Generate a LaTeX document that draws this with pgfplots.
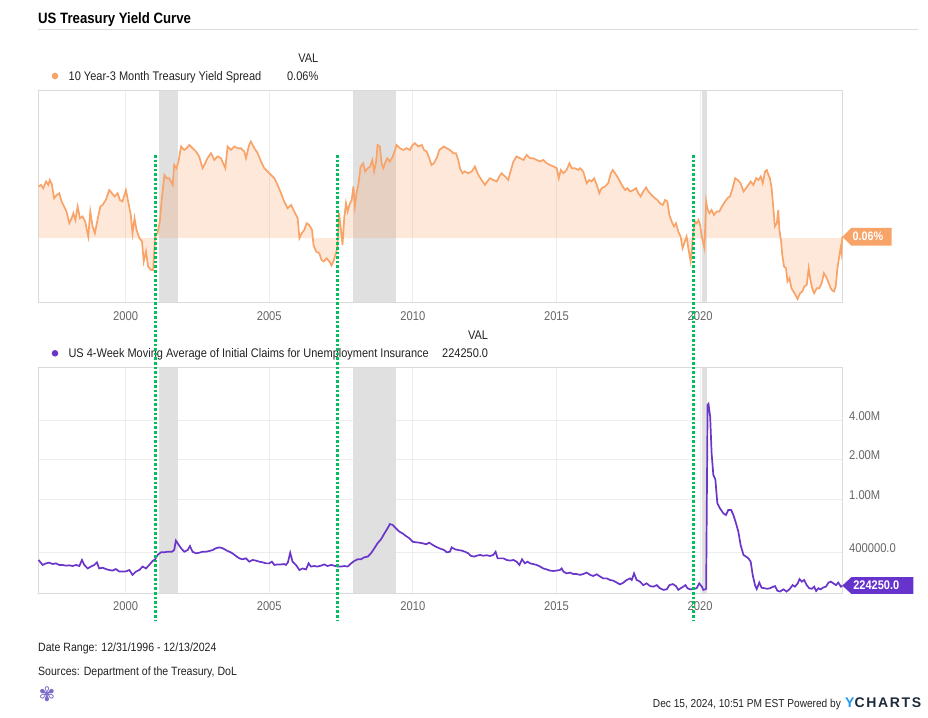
\documentclass[border=0pt]{standalone}
\usepackage{fontspec}
\setmainfont{Liberation Sans}[FakeStretch=0.88]
\newfontfamily\logofont{Liberation Sans}
\newfontfamily\dejavu{DejaVu Sans}
\usepackage{pgfplots}
\pgfplotsset{compat=1.18}
\usepackage{pgfplotstable}

\definecolor{spc}{HTML}{F8A368}
\definecolor{clc}{HTML}{6A35C9}
\definecolor{tagp}{HTML}{6633CC}
\definecolor{grn}{HTML}{00BF5F}
\definecolor{rec}{HTML}{E0E0E0}
\definecolor{frame}{HTML}{DADADA}
\definecolor{gridc}{HTML}{EDEDED}
\definecolor{tickc}{HTML}{666666}
\definecolor{txt}{HTML}{222222}
\definecolor{ycb}{HTML}{1E96F0}
\definecolor{ycn}{HTML}{1C2A3A}
\definecolor{logoc}{HTML}{7A6CC8}

\pgfplotstableread{
year v
1996.97 2.07
1997.05 2.13
1997.13 2.00
1997.23 2.27
1997.31 2.13
1997.36 2.33
1997.43 2.16
1997.51 1.60
1997.60 1.73
1997.69 1.80
1997.77 1.47
1997.86 1.27
1997.94 1.07
1998.04 0.60
1998.12 0.80
1998.18 1.00
1998.25 0.73
1998.33 1.27
1998.41 0.80
1998.50 0.87
1998.59 0.67
1998.70 0.07
1998.77 1.07
1998.85 0.47
1998.93 0.20
1999.02 0.73
1999.12 1.27
1999.20 1.33
1999.31 1.53
1999.43 1.93
1999.52 1.80
1999.62 1.67
1999.72 1.80
1999.80 1.53
1999.89 1.47
2000.01 1.93
2000.10 1.40
2000.18 0.93
2000.24 0.20
2000.31 0.80
2000.38 0.33
2000.48 0.00
2000.57 -0.13
2000.63 -0.93
2000.71 -0.53
2000.78 -1.13
2000.88 -1.27
2000.96 -1.27
2001.03 0.13
2001.11 0.20
2001.19 0.67
2001.26 1.60
2001.35 2.53
2001.43 2.40
2001.52 2.40
2001.64 2.13
2001.69 2.93
2001.77 2.80
2001.84 3.07
2001.93 3.67
2002.04 3.53
2002.12 3.60
2002.22 3.73
2002.33 3.60
2002.45 3.47
2002.56 3.27
2002.68 2.80
2002.74 2.93
2002.85 3.20
2002.97 3.40
2003.09 3.13
2003.20 3.27
2003.32 3.20
2003.47 2.80
2003.55 3.67
2003.67 3.53
2003.78 3.67
2003.90 3.60
2004.01 3.60
2004.13 3.47
2004.19 3.20
2004.30 3.73
2004.36 3.87
2004.48 3.60
2004.60 3.40
2004.71 3.07
2004.83 2.80
2005.00 2.60
2005.18 2.40
2005.29 2.13
2005.41 1.80
2005.52 1.47
2005.64 1.20
2005.76 1.33
2005.87 1.07
2005.99 0.80
2006.05 0.00
2006.13 0.20
2006.22 0.33
2006.30 0.60
2006.39 0.53
2006.49 0.33
2006.54 -0.27
2006.63 -0.53
2006.74 -0.60
2006.82 -0.87
2006.90 -0.93
2007.00 -0.80
2007.09 -0.93
2007.17 -1.09
2007.25 -0.87
2007.32 -0.60
2007.37 -0.40
2007.43 1.00
2007.48 0.53
2007.55 -0.27
2007.61 0.80
2007.67 1.40
2007.73 1.07
2007.79 1.33
2007.87 1.53
2007.93 2.07
2007.98 1.27
2008.04 1.80
2008.11 2.20
2008.18 2.87
2008.27 3.00
2008.34 2.67
2008.43 2.80
2008.51 2.87
2008.59 3.13
2008.65 2.67
2008.72 3.07
2008.77 3.73
2008.85 3.67
2008.91 3.00
2008.97 2.80
2009.03 3.00
2009.11 3.20
2009.20 3.07
2009.30 3.27
2009.38 3.53
2009.43 3.73
2009.55 3.60
2009.67 3.53
2009.78 3.60
2009.90 3.53
2009.99 3.73
2010.07 3.80
2010.19 3.67
2010.31 3.73
2010.39 3.53
2010.48 3.47
2010.57 3.20
2010.65 2.93
2010.73 3.00
2010.83 3.20
2010.92 3.53
2011.00 3.60
2011.08 3.67
2011.18 3.60
2011.29 3.53
2011.41 3.40
2011.50 3.40
2011.58 3.13
2011.64 2.80
2011.73 2.60
2011.81 2.67
2011.93 2.60
2012.05 2.67
2012.16 2.87
2012.28 2.53
2012.39 2.33
2012.51 2.13
2012.59 2.27
2012.68 2.40
2012.80 2.33
2012.92 2.27
2013.01 2.47
2013.09 2.60
2013.21 2.47
2013.32 2.33
2013.40 2.67
2013.50 3.07
2013.61 3.27
2013.73 3.20
2013.85 3.13
2013.96 3.33
2014.08 3.20
2014.19 3.20
2014.31 3.13
2014.43 3.07
2014.54 3.13
2014.66 3.00
2014.77 2.93
2014.89 2.87
2015.01 2.80
2015.08 2.40
2015.15 2.73
2015.24 2.60
2015.35 2.73
2015.45 3.00
2015.53 2.80
2015.64 2.80
2015.76 2.73
2015.82 2.80
2015.93 2.67
2016.05 2.20
2016.14 2.33
2016.22 2.27
2016.31 2.40
2016.40 2.13
2016.49 1.80
2016.57 2.00
2016.69 2.07
2016.80 2.20
2016.89 2.60
2016.96 2.73
2017.04 2.60
2017.15 2.40
2017.27 2.13
2017.39 1.93
2017.47 2.00
2017.56 1.87
2017.68 1.93
2017.77 2.00
2017.85 1.80
2017.93 1.67
2018.02 1.87
2018.12 2.03
2018.20 1.87
2018.31 1.73
2018.43 1.60
2018.51 1.53
2018.60 1.40
2018.70 1.33
2018.78 1.53
2018.86 1.47
2018.93 0.93
2019.01 0.67
2019.09 0.47
2019.16 0.60
2019.24 0.27
2019.32 0.07
2019.39 -0.40
2019.47 -0.13
2019.53 0.07
2019.59 -0.40
2019.67 -0.93
2019.72 -0.40
2019.76 0.27
2019.82 0.67
2019.88 0.60
2019.94 0.73
2020.00 0.53
2020.07 0.00
2020.15 -0.40
2020.21 1.47
2020.25 1.20
2020.32 1.00
2020.40 1.13
2020.48 0.93
2020.58 1.07
2020.67 1.07
2020.76 1.27
2020.87 1.47
2020.95 1.60
2021.04 1.67
2021.13 2.00
2021.22 2.40
2021.31 2.33
2021.41 2.20
2021.51 1.87
2021.60 2.00
2021.68 2.13
2021.76 2.27
2021.85 2.13
2021.95 2.40
2022.03 2.33
2022.11 2.47
2022.18 2.20
2022.26 2.67
2022.32 2.73
2022.38 2.53
2022.43 2.40
2022.49 2.00
2022.55 1.20
2022.60 0.47
2022.67 0.60
2022.72 1.13
2022.76 0.33
2022.82 -0.13
2022.86 -0.67
2022.92 -1.13
2022.99 -1.20
2023.04 -1.73
2023.11 -1.60
2023.18 -2.00
2023.25 -2.13
2023.32 -2.27
2023.39 -2.43
2023.48 -2.20
2023.56 -2.13
2023.63 -1.93
2023.71 -1.87
2023.78 -1.20
2023.83 -1.60
2023.90 -2.00
2023.97 -2.20
2024.06 -2.00
2024.15 -2.00
2024.23 -1.80
2024.31 -1.40
2024.41 -1.60
2024.50 -1.87
2024.58 -2.07
2024.66 -2.13
2024.72 -1.93
2024.78 -1.20
2024.85 -0.67
2024.89 -0.40
2024.92 -0.60
2024.95 0.06
}\spread

\pgfplotstableread{
year v
1996.97 350000
1997.11 321000
1997.23 330000
1997.34 334000
1997.46 326000
1997.57 330000
1997.69 321000
1997.80 321000
1997.92 317000
1998.04 319000
1998.15 315000
1998.27 321000
1998.39 315000
1998.48 350000
1998.56 321000
1998.68 302000
1998.79 312000
1998.91 321000
1999.00 336000
1999.08 302000
1999.20 306000
1999.31 299000
1999.43 294000
1999.55 291000
1999.66 299000
1999.78 286000
1999.89 286000
2000.01 287000
2000.13 294000
2000.24 270000
2000.36 286000
2000.48 294000
2000.59 312000
2000.71 302000
2000.82 321000
2000.94 344000
2001.03 354000
2001.11 382000
2001.23 400000
2001.35 400000
2001.46 404000
2001.61 404000
2001.69 416000
2001.75 490000
2001.85 455000
2001.93 429000
2002.04 404000
2002.16 416000
2002.24 446000
2002.33 404000
2002.45 393000
2002.56 397000
2002.68 404000
2002.80 404000
2002.91 409000
2003.03 416000
2003.14 429000
2003.26 436000
2003.38 429000
2003.49 416000
2003.61 404000
2003.72 393000
2003.84 375000
2003.96 360000
2004.07 354000
2004.19 360000
2004.30 340000
2004.42 350000
2004.54 346000
2004.65 340000
2004.77 336000
2004.89 330000
2005.00 330000
2005.09 340000
2005.18 321000
2005.29 324000
2005.41 324000
2005.52 326000
2005.58 321000
2005.65 336000
2005.73 397000
2005.81 340000
2005.93 321000
2006.05 294000
2006.16 302000
2006.28 297000
2006.37 330000
2006.45 312000
2006.57 315000
2006.68 312000
2006.80 317000
2006.92 324000
2007.03 315000
2007.15 321000
2007.26 317000
2007.38 312000
2007.50 312000
2007.61 315000
2007.73 312000
2007.85 330000
2007.96 344000
2008.08 354000
2008.19 354000
2008.31 367000
2008.43 371000
2008.54 393000
2008.66 429000
2008.77 468000
2008.89 501000
2009.01 556000
2009.12 607000
2009.20 654000
2009.30 643000
2009.41 607000
2009.53 573000
2009.64 556000
2009.76 531000
2009.88 510000
2009.99 481000
2010.11 476000
2010.22 473000
2010.34 468000
2010.46 460000
2010.57 473000
2010.69 455000
2010.80 441000
2010.92 429000
2011.09 416000
2011.18 400000
2011.29 404000
2011.35 436000
2011.47 421000
2011.58 416000
2011.70 412000
2011.81 404000
2011.93 393000
2012.01 377000
2012.13 371000
2012.22 377000
2012.34 382000
2012.45 377000
2012.57 380000
2012.69 375000
2012.80 382000
2012.88 404000
2012.95 360000
2013.03 360000
2013.15 360000
2013.27 350000
2013.38 346000
2013.50 350000
2013.61 340000
2013.71 321000
2013.80 354000
2013.90 330000
2013.99 340000
2014.08 330000
2014.19 326000
2014.31 321000
2014.43 312000
2014.54 302000
2014.66 297000
2014.77 291000
2014.89 289000
2015.01 291000
2015.12 294000
2015.18 302000
2015.24 286000
2015.35 277000
2015.47 281000
2015.59 274000
2015.70 274000
2015.82 270000
2015.93 274000
2016.05 281000
2016.17 270000
2016.28 265000
2016.40 273000
2016.52 262000
2016.63 254000
2016.75 254000
2016.86 247000
2016.98 244000
2017.10 236000
2017.21 229000
2017.33 236000
2017.44 247000
2017.56 254000
2017.62 247000
2017.70 277000
2017.79 247000
2017.91 240000
2018.02 226000
2018.14 233000
2018.26 222000
2018.37 220000
2018.49 226000
2018.60 214000
2018.72 208000
2018.84 210000
2018.93 226000
2019.05 230000
2019.16 222000
2019.24 208000
2019.32 214000
2019.42 220000
2019.49 226000
2019.56 214000
2019.65 210000
2019.77 211000
2019.88 214000
2019.97 233000
2020.06 220000
2020.11 208000
2020.18 210000
2020.21 212000
2020.26 5200000
2020.29 5300000
2020.35 4240000
2020.40 2240000
2020.46 1536000
2020.53 1424000
2020.60 938000
2020.69 860000
2020.81 788000
2020.90 765000
2020.98 835000
2021.08 835000
2021.16 765000
2021.25 662000
2021.33 573000
2021.41 454000
2021.51 382000
2021.60 371000
2021.68 360000
2021.76 340000
2021.83 270000
2021.91 226000
2021.97 211000
2022.06 236000
2022.14 216000
2022.24 214000
2022.34 212000
2022.43 214000
2022.55 220000
2022.61 222000
2022.69 205000
2022.78 202000
2022.90 210000
2023.01 202000
2023.11 210000
2023.22 226000
2023.30 220000
2023.40 233000
2023.46 251000
2023.54 240000
2023.62 247000
2023.71 226000
2023.80 214000
2023.89 212000
2023.97 220000
2024.04 204000
2024.12 214000
2024.20 210000
2024.29 217000
2024.38 220000
2024.47 236000
2024.55 240000
2024.64 233000
2024.73 226000
2024.81 236000
2024.90 220000
2024.95 224250
}\claims

\begin{document}
\begin{tikzpicture}
\useasboundingbox (0pt,0pt) rectangle (928pt,717pt);

% title
\node[anchor=base west, inner sep=0, font=\fontsize{15}{17}\selectfont\bfseries, text=black] at (38pt,693pt) {US Treasury Yield Curve};
\draw[black!14, line width=0.8pt] (38pt,688pt) -- (918pt,688pt);

% top legend
\node[anchor=base east, inner sep=0, font=\fontsize{12.5}{14}\selectfont, text=txt] at (318.5pt,654pt) {VAL};
\fill[spc] (55pt,641pt) circle (3.3pt);
\node[anchor=base west, inner sep=0, font=\fontsize{12.5}{14}\selectfont, text=txt] at (68.5pt,636.5pt) {10 Year-3 Month Treasury Yield Spread};
\node[anchor=base east, inner sep=0, font=\fontsize{12.5}{14}\selectfont, text=txt] at (318.5pt,636.5pt) {0.06\%};

% bottom legend
\node[anchor=base east, inner sep=0, font=\fontsize{12.5}{14}\selectfont, text=txt] at (488.3pt,377.5pt) {VAL};
\fill[clc] (55pt,363.7pt) circle (3.3pt);
\node[anchor=base west, inner sep=0, font=\fontsize{12.5}{14}\selectfont, text=txt] at (68.3pt,359.2pt) {US 4-Week Moving Average of Initial Claims for Unemployment Insurance};
\node[anchor=base east, inner sep=0, font=\fontsize{12.5}{14}\selectfont, text=txt] at (488.3pt,359.2pt) {224250.0};

% ---------- top panel ----------
\begin{axis}[
  at={(38.3pt,415pt)}, anchor=south west,
  width=804pt, height=211.3pt, scale only axis,
  xmin=1996.96, xmax=2024.95, ymin=-2.55, ymax=5.9,
  axis line style={draw=frame, line width=0.8pt},
  xtick={2000,2005,2010,2015,2020},
  xticklabels={2000,2005,2010,2015,2020},
  ytick=\empty,
  tick style={draw=none},
  xmajorgrids, grid style={draw=gridc, line width=0.8pt},
  x tick label style={font=\fontsize{12.7}{14}\selectfont, text=tickc, inner sep=0pt, anchor=north, yshift=-9.5pt},
  clip=false,
]
\addplot[fill=rec, draw=none, forget plot] coordinates {(2001.15,-2.55) (2001.81,-2.55) (2001.81,5.9) (2001.15,5.9)};
\addplot[fill=rec, draw=none, forget plot] coordinates {(2007.92,-2.55) (2009.42,-2.55) (2009.42,5.9) (2007.92,5.9)};
\addplot[fill=rec, draw=none, forget plot] coordinates {(2020.06,-2.55) (2020.23,-2.55) (2020.23,5.9) (2020.06,5.9)};
\addplot[fill=spc, fill opacity=0.25, draw=none, forget plot] table[x=year,y=v]{\spread} -- (axis cs:2024.95,0) -- (axis cs:1996.97,0) -- cycle;
\addplot[spc, line width=1.7pt, forget plot] table[x=year,y=v]{\spread};
\fill[spc] (axis cs:2024.95,0.06) -- ++(9pt,8.85pt) -- ++(40.4pt,0pt) -- ++(0pt,-17.7pt) -- ++(-40.4pt,0pt) -- cycle;
\node[xshift=25.7pt, inner sep=0, text=white, font=\fontsize{12.3}{14}\selectfont\bfseries] at (axis cs:2024.95,0.06) {0.06\%};
\coordinate (ga) at (axis cs:2001.03,3.33);
\coordinate (gb) at (axis cs:2007.37,3.33);
\coordinate (gc) at (axis cs:2019.78,3.33);
\end{axis}

% ---------- bottom panel ----------
\begin{axis}[
  at={(38.3pt,123.7pt)}, anchor=south west,
  width=804pt, height=225.6pt, scale only axis,
  xmin=1996.96, xmax=2024.95, ymode=log, ymin=196000, ymax=9940000,
  axis line style={draw=frame, line width=0.8pt},
  xtick={2000,2005,2010,2015,2020},
  xticklabels={2000,2005,2010,2015,2020},
  ytick={400000,1000000,2000000,4000000},
  yticklabels={400000.0,1.00M,2.00M,4.00M},
  yticklabel pos=right,
  tick style={draw=none},
  xmajorgrids, ymajorgrids, grid style={draw=gridc, line width=0.8pt},
  x tick label style={font=\fontsize{12.7}{14}\selectfont, text=tickc, inner sep=0pt, anchor=north, yshift=-8.5pt},
  y tick label style={font=\fontsize{12.7}{14}\selectfont, text=tickc, inner sep=0pt, anchor=west, xshift=6.7pt, yshift=4.3pt},
  clip=false,
]
\addplot[fill=rec, draw=none, forget plot] coordinates {(2001.15,196000) (2001.81,196000) (2001.81,9940000) (2001.15,9940000)};
\addplot[fill=rec, draw=none, forget plot] coordinates {(2007.92,196000) (2009.42,196000) (2009.42,9940000) (2007.92,9940000)};
\addplot[fill=rec, draw=none, forget plot] coordinates {(2020.06,196000) (2020.23,196000) (2020.23,9940000) (2020.06,9940000)};
\addplot[clc, line width=1.7pt, forget plot] table[x=year,y=v]{\claims};
\fill[tagp] (axis cs:2024.95,224250) -- ++(9pt,8.3pt) -- ++(62pt,0pt) -- ++(0pt,-16.6pt) -- ++(-62pt,0pt) -- cycle;
\node[xshift=34pt, inner sep=0, text=white, font=\fontsize{12.5}{14}\selectfont\bfseries] at (axis cs:2024.95,224250) {224250.0};
\end{axis}

% green dotted markers
\draw[grn, line width=2.8pt, dash pattern=on 2.6pt off 2pt] (ga) -- (ga |- 0pt,97pt);
\draw[grn, line width=2.8pt, dash pattern=on 2.6pt off 2pt] (gb) -- (gb |- 0pt,97pt);
\draw[grn, line width=2.8pt, dash pattern=on 2.6pt off 2pt] (gc) -- (gc |- 0pt,97pt);

% footer
\node[anchor=base west, inner sep=0, font=\fontsize{12}{14}\selectfont, text=txt] at (38pt,65.5pt) {Date Range: 12/31/1996 - 12/13/2024};
\node[anchor=base west, inner sep=0, font=\fontsize{12}{14}\selectfont, text=txt] at (38pt,41.5pt) {Sources: Department of the Treasury, DoL};
\node[anchor=center, inner sep=0, font=\dejavu\fontsize{20}{22}\selectfont, text=logoc] at (47pt,23pt) {✾};
\node[anchor=base east, inner sep=0, font=\logofont\fontsize{14}{16}\selectfont\bfseries] (yc) at (921.5pt,10pt) {\addfontfeature{LetterSpace=12}{\color{ycb}Y}{\color{ycn}CHARTS}};
\node[anchor=base east, inner sep=0, font=\fontsize{11.5}{13}\selectfont, text=txt] at ([xshift=-4pt]yc.base west) {Dec 15, 2024, 10:51 PM EST Powered by};
\end{tikzpicture}
\end{document}
